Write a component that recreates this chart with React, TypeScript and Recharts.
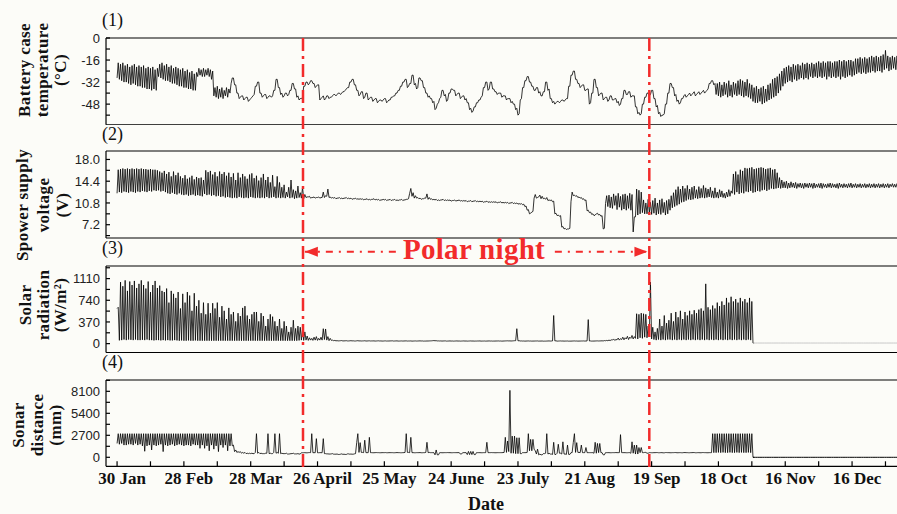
import React from 'react';
import { LineChart, Line, XAxis, YAxis, ReferenceLine } from 'recharts';

// x = day index, 0 = 30 Jan. Each day has a low reading (at d) and a high reading (at d + 0.5).
const DATE_TICKS = [0, 14.5, 29, 43.5, 58, 72.5, 87, 101.5, 116, 130.5, 145, 159.5, 174, 188.5, 203, 217.5, 232, 246.5, 261, 275.5, 290, 304.5, 319, 333.5];
const DATE_LABELS = ['30 Jan', '', '28 Feb', '', '28 Mar', '', '26 April', '', '25 May', '', '24 June', '', '23 July', '', '21 Aug', '', '19 Sep', '', '18 Oct', '', '16 Nov', '', '16 Dec', ''];
const X_DOMAIN = [-4.8, 339.8];

const POLAR_START = 80.7;
const POLAR_END = 231;

// (1) battery case temperature, °C
const TEMP_LO = [
  -29, -30, -31, -32, -32, -33, -34, -33, -34, -35,
  -35, -36, -36, -37, -37, -38, -37, -38, -28, -29,
  -30, -31, -31, -32, -33, -33, -34, -35, -35, -36,
  -36, -37, -37, -38, -38, -28, -27, -28, -28, -27,
  -28, -30, -42, -43, -44, -43, -44, -42, -43, -40,
  -29, -34, -40, -44, -42, -45, -43, -46, -44, -42,
  -35, -32, -40, -43, -41, -44, -42, -43, -38, -30,
  -36, -41, -43, -40, -42, -38, -33, -37, -43, -45,
  -44, -35, -32, -34, -31, -33, -36, -34, -45, -43,
  -45, -42, -44, -43, -41, -42, -40, -41, -39, -38,
  -36, -32, -30, -34, -38, -42, -39, -44, -40, -45,
  -43, -46, -44, -47, -45, -46, -44, -47, -45, -43,
  -42, -40, -38, -35, -32, -30, -36, -33, -27, -34,
  -37, -29, -31, -36, -40, -43, -44, -47, -52, -48,
  -44, -38, -42, -46, -40, -37, -38, -42, -40, -44,
  -42, -45, -47, -52, -54, -50, -47, -45, -43, -36,
  -32, -38, -32, -37, -39, -41, -40, -43, -42, -45,
  -44, -47, -48, -52, -56, -45, -36, -31, -28, -32,
  -35, -38, -36, -40, -42, -39, -32, -38, -44, -47,
  -48, -46, -47, -45, -46, -44, -35, -27, -24, -30,
  -33, -36, -34, -38, -37, -48, -40, -30, -36, -42,
  -40, -45, -43, -46, -42, -45, -44, -47, -49, -44,
  -38, -41, -39, -43, -42, -50, -55, -56, -48, -43,
  -40, -42, -38, -44, -50, -55, -57, -56, -48, -40,
  -33, -36, -42, -46, -48, -44, -42, -43, -41, -42,
  -40, -42, -40, -41, -39, -40, -38, -33, -31, -34,
  -41, -42, -43, -42, -41, -43, -42, -43, -41, -42,
  -41, -42, -43, -42, -43, -44, -46, -47, -47, -46,
  -48, -47, -46, -45, -44, -43, -42, -40, -38, -35,
  -33, -32, -31, -32, -30, -31, -30, -29, -30, -29,
  -30, -28, -29, -28, -29, -28, -29, -28, -30, -28,
  -29, -28, -29, -28, -30, -28, -29, -28, -27, -28,
  -27, -26, -25, -26, -25, -26, -25, -25, -24, -25,
  -24, -24, -25, -23, -22, -24, -23, -22, -23, -22,
];
const TEMP_HI = [
  -18, -19, -18, -20, -19, -21, -20, -19, -21, -20,
  -21, -20, -22, -21, -22, -21, -23, -22, -19, -18,
  -20, -19, -21, -20, -22, -21, -22, -23, -22, -24,
  -23, -25, -24, -26, -25, -22, -23, -22, -23, -22,
  -23, -24, -36, -35, -37, -36, -38, -36, -37, -33,
  -29, -34, -40, -43, -42, -44, -43, -45, -43, -41,
  -35, -32, -40, -42, -41, -43, -42, -42, -38, -30,
  -36, -40, -42, -40, -41, -38, -33, -37, -42, -44,
  -43, -35, -32, -33, -31, -33, -35, -34, -44, -42,
  -44, -42, -43, -42, -41, -41, -40, -40, -39, -37,
  -36, -32, -30, -34, -38, -41, -39, -43, -40, -44,
  -43, -45, -44, -46, -45, -45, -44, -46, -45, -43,
  -42, -40, -38, -35, -32, -30, -35, -33, -27, -33,
  -36, -29, -31, -36, -40, -42, -44, -46, -51, -47,
  -43, -38, -41, -45, -40, -37, -38, -41, -40, -43,
  -42, -44, -47, -51, -53, -50, -47, -45, -42, -36,
  -32, -37, -32, -37, -39, -40, -40, -42, -42, -44,
  -44, -46, -48, -51, -55, -44, -36, -31, -28, -32,
  -35, -38, -36, -39, -42, -39, -32, -37, -44, -46,
  -47, -46, -46, -45, -45, -44, -35, -27, -24, -30,
  -33, -35, -34, -38, -37, -47, -40, -30, -36, -41,
  -40, -44, -43, -45, -42, -45, -44, -46, -48, -44,
  -38, -41, -39, -42, -42, -50, -54, -55, -48, -43,
  -40, -41, -38, -44, -49, -54, -56, -55, -48, -40,
  -33, -36, -41, -45, -47, -44, -41, -42, -40, -41,
  -39, -41, -39, -40, -38, -39, -37, -33, -31, -33,
  -33, -32, -34, -32, -33, -31, -34, -32, -33, -31,
  -30, -31, -32, -30, -33, -34, -36, -35, -37, -36,
  -35, -37, -34, -33, -30, -29, -28, -26, -24, -22,
  -21, -20, -21, -19, -20, -19, -20, -18, -19, -18,
  -19, -18, -19, -18, -17, -18, -17, -18, -17, -17,
  -18, -17, -17, -16, -17, -16, -17, -16, -16, -17,
  -15, -15, -14, -15, -14, -15, -14, -13, -14, -13,
  -14, -13, -12, -9, -13, -14, -13, -14, -13, -14,
];

// (2) power supply voltage, V
const VOLT_LO = [
  12.4, 12.6, 12.5, 12.7, 12.6, 12.5, 12.7, 12.6, 12.5, 12.7,
  12.6, 12.8, 12.7, 12.6, 12.8, 12.7, 12.9, 12.8, 12.9, 12.7,
  12.8, 12.6, 12.4, 12.3, 12.5, 12.3, 12.2, 12.4, 12.2, 12.1,
  12.2, 12.0, 12.1, 12.2, 12.0, 12.1, 12.0, 11.9, 12.3, 12.1,
  12.2, 12.0, 12.1, 11.9, 12.0, 11.8, 11.9, 11.7, 11.8, 11.7,
  11.6, 11.7, 11.6, 11.8, 11.7, 11.6, 11.7, 11.6, 11.8, 11.7,
  11.6, 11.7, 11.6, 11.7, 11.6, 11.8, 11.6, 11.7, 11.8, 11.6,
  11.7, 11.6, 11.7, 11.6, 11.8, 11.6, 11.7, 11.5, 11.6, 11.7,
  11.6, 11.5, 11.7, 11.8, 11.6, 11.7, 11.6, 11.7, 11.6, 11.7,
  11.7, 11.9, 11.7, 11.6, 11.6, 11.5, 11.6, 11.5, 11.5, 11.6,
  11.5, 11.5, 11.4, 11.5, 11.4, 11.4, 11.4, 11.3, 11.4, 11.3,
  11.3, 11.4, 11.3, 11.3, 11.2, 11.3, 11.3, 11.2, 11.3, 11.2,
  11.3, 11.2, 11.2, 11.3, 11.2, 11.3, 11.4, 12.4, 11.9, 11.6,
  11.6, 11.5, 11.4, 11.5, 11.6, 11.4, 11.4, 11.3, 11.3, 11.2,
  11.2, 11.3, 11.2, 11.2, 11.2, 11.1, 11.2, 11.1, 11.2, 11.1,
  11.1, 11.1, 11.0, 11.1, 11.0, 11.1, 11.0, 11.0, 11.0, 10.9,
  11.0, 10.9, 10.9, 10.9, 10.9, 10.8, 10.9, 10.8, 10.8, 10.8,
  10.7, 10.8, 10.7, 10.7, 10.6, 10.6, 10.5, 10.2, 9.6, 9.0,
  9.3, 11.6, 11.6, 11.8, 11.5, 11.5, 11.4, 11.2, 11.2, 11.0,
  9.0, 8.7, 8.6, 6.8, 6.5, 6.4, 6.5, 11.0, 12.0, 11.9,
  11.7, 11.6, 11.4, 11.2, 9.5, 9.2, 8.9, 8.7, 9.0, 8.8,
  8.6, 6.5, 10.7, 10.2, 10.0, 9.9, 10.4, 9.7, 10.1, 9.6,
  9.8, 9.6, 9.9, 9.6, 6.0, 8.5, 8.8, 9.0, 9.2, 9.0,
  9.0, 9.2, 8.9, 9.1, 8.8, 9.0, 8.9, 9.2, 8.8, 9.0,
  9.6, 10.0, 10.2, 10.4, 10.6, 10.9, 11.0, 11.2, 11.4, 11.3,
  11.4, 11.6, 11.5, 11.6, 11.7, 11.6, 11.7, 11.8, 11.7, 11.6,
  11.7, 11.6, 11.8, 11.7, 11.6, 11.8, 11.9, 12.4, 12.2, 12.6,
  12.3, 12.5, 12.4, 12.7, 12.6, 12.8, 12.5, 12.6, 12.8, 12.7,
  12.9, 13.0, 12.8, 13.0, 13.2, 13.1, 13.2, 13.3, 13.2, 13.3,
  13.3, 13.2, 13.3, 13.4, 13.3, 13.2, 13.4, 13.3, 13.2, 13.4,
  13.3, 13.4, 13.2, 13.3, 13.4, 13.3, 13.2, 13.4, 13.3, 13.4,
  13.3, 13.4, 13.3, 13.2, 13.4, 13.3, 13.4, 13.3, 13.4, 13.3,
  13.4, 13.3, 13.4, 13.3, 13.4, 13.3, 13.4, 13.3, 13.4, 13.3,
  13.4, 13.3, 13.4, 13.3, 13.4, 13.3, 13.5, 13.4, 13.4, 13.3,
];
const VOLT_HI = [
  16.3, 16.4, 16.5, 16.4, 16.5, 16.4, 16.5, 16.4, 16.5, 16.4,
  16.5, 16.4, 16.4, 16.3, 16.4, 16.3, 16.3, 16.2, 16.0, 15.8,
  16.1, 15.6, 15.9, 15.2, 16.0, 15.4, 15.8, 15.2, 14.9, 15.4,
  14.8, 15.0, 15.3, 14.7, 15.1, 14.9, 15.0, 14.6, 16.2, 15.9,
  16.1, 15.5, 15.9, 15.2, 16.0, 15.6, 15.9, 15.3, 15.8, 15.1,
  15.7, 14.6, 15.8, 15.0, 15.6, 15.2, 14.8, 15.5, 15.7, 14.9,
  15.3, 14.5, 15.0, 15.6, 14.6, 15.1, 14.2, 15.4, 13.5, 15.2,
  14.2, 13.4, 13.8, 12.6, 13.4, 14.6, 13.0, 12.8, 13.6, 12.5,
  13.4, 12.2, 11.8, 11.9, 11.7, 11.8, 11.7, 11.8, 11.7, 12.6,
  12.0, 13.1, 11.8, 11.7, 11.7, 11.6, 11.7, 11.6, 11.6, 11.7,
  11.6, 11.6, 11.5, 11.6, 11.5, 11.5, 11.5, 11.4, 11.5, 11.4,
  11.4, 11.5, 11.4, 11.4, 11.3, 11.4, 11.4, 11.3, 11.4, 11.3,
  11.4, 11.3, 11.3, 11.4, 11.3, 11.4, 11.5, 13.2, 12.5, 12.0,
  11.7, 11.6, 11.5, 11.6, 12.3, 11.7, 11.5, 11.4, 11.4, 11.3,
  11.3, 11.4, 11.3, 11.3, 11.3, 11.2, 11.3, 11.2, 11.3, 11.2,
  11.2, 11.2, 11.1, 11.2, 11.1, 11.2, 11.1, 11.1, 11.1, 11.0,
  11.1, 11.0, 11.0, 11.0, 11.0, 10.9, 11.0, 10.9, 10.9, 10.9,
  10.8, 10.9, 10.8, 10.8, 10.7, 10.7, 10.6, 10.3, 9.7, 9.1,
  9.4, 12.2, 11.7, 12.1, 11.9, 11.6, 11.7, 11.3, 11.3, 11.1,
  9.1, 8.8, 8.7, 6.9, 6.6, 6.5, 6.6, 12.6, 12.1, 12.0,
  11.8, 11.7, 11.5, 11.3, 9.6, 9.3, 9.0, 8.8, 9.1, 8.9,
  8.7, 6.6, 12.0, 12.1, 11.8, 12.3, 12.0, 12.4, 11.9, 12.2,
  12.3, 12.0, 12.4, 12.2, 8.5, 13.1, 12.9, 12.6, 11.3, 10.8,
  11.4, 10.9, 11.2, 11.6, 10.8, 11.3, 11.5, 10.9, 11.2, 11.4,
  12.0, 12.5, 13.0, 13.5, 13.1, 13.6, 13.2, 13.7, 13.1, 13.4,
  13.6, 13.0, 13.5, 13.2, 13.7, 13.3, 13.1, 13.4, 12.8, 13.3,
  12.6, 13.0, 12.8, 12.4, 12.6, 13.0, 12.8, 15.6, 16.0, 15.5,
  16.3, 16.1, 16.6, 16.5, 16.6, 16.7, 16.4, 16.5, 16.6, 16.7,
  16.6, 16.4, 16.5, 16.6, 16.3, 16.4, 15.8, 15.0, 14.6, 14.3,
  14.4, 14.1, 14.3, 14.1, 14.2, 14.0, 14.1, 14.0, 14.1, 14.0,
  14.1, 14.0, 14.1, 13.9, 14.0, 14.1, 14.0, 13.9, 14.0, 14.1,
  14.0, 13.9, 14.0, 14.1, 13.9, 14.0, 13.9, 14.0, 14.1, 13.9,
  14.0, 13.9, 14.0, 13.9, 14.0, 13.9, 14.0, 13.9, 14.0, 13.9,
  14.0, 13.9, 14.0, 13.9, 14.0, 13.9, 14.0, 13.9, 14.0, 13.9,
];

// (3) solar radiation, W/m2, days 0-276 (daily base and daily peak)
const SOLAR_LO = [
  600, 56, 60, 70, 60, 70, 65, 60, 70, 60,
  60, 65, 60, 70, 60, 60, 55, 60, 60, 55,
  60, 55, 60, 55, 55, 60, 55, 50, 55, 50,
  50, 55, 50, 50, 55, 50, 50, 50, 50, 50,
  50, 50, 50, 50, 50, 50, 50, 50, 50, 50,
  50, 50, 50, 50, 50, 50, 50, 50, 50, 50,
  50, 50, 50, 50, 50, 50, 50, 50, 50, 50,
  50, 50, 50, 50, 50, 50, 50, 50, 50, 55,
  60, 55, 60, 55, 60, 55, 60, 55, 60, 60,
  70, 60, 50, 55, 50, 48, 47, 50, 46, 48,
  46, 48, 47, 45, 48, 46, 45, 47, 45, 47,
  45, 46, 44, 47, 45, 44, 46, 44, 45, 47,
  44, 46, 44, 45, 44, 46, 44, 45, 43, 45,
  44, 46, 45, 43, 44, 45, 47, 50, 49, 46,
  45, 44, 46, 43, 45, 44, 43, 45, 44, 43,
  45, 44, 43, 45, 44, 43, 44, 45, 43, 44,
  43, 45, 44, 43, 44, 45, 44, 43, 45, 47,
  46, 45, 48, 50, 48, 45, 44, 43, 45, 44,
  43, 44, 45, 43, 44, 42, 43, 45, 44, 46,
  47, 43, 45, 44, 43, 44, 42, 43, 45, 44,
  43, 44, 45, 44, 46, 45, 43, 44, 46, 45,
  47, 46, 49, 50, 52, 60, 55, 65, 60, 70,
  65, 80, 70, 90, 80, 90, 80, 100, 90, 110,
  100, 120, 80, 70, 60, 70, 60, 70, 60, 70,
  70, 60, 70, 60, 70, 60, 70, 60, 70, 60,
  70, 60, 70, 60, 70, 60, 70, 60, 70, 60,
  70, 60, 70, 60, 70, 60, 70, 60, 70, 60,
  70, 60, 70, 60, 70, 60, 10,
];
const SOLAR_HI = [
  620, 1050, 980, 1080, 900, 1060, 1000, 1070, 950, 1020,
  1080, 1000, 940, 1060, 880, 1000, 1070, 950, 990, 900,
  880, 940, 700, 900, 850, 780, 880, 600, 850, 700,
  880, 820, 560, 860, 640, 740, 520, 700, 500, 690,
  520, 690, 600, 700, 450, 640, 560, 420, 610, 500,
  540, 380, 520, 470, 610, 640, 480, 420, 500, 540,
  540, 380, 520, 470, 300, 420, 500, 460, 380, 300,
  420, 260, 380, 300, 200, 280, 400, 260, 300, 280,
  250, 200, 130, 100, 90, 110, 120, 90, 110, 255,
  250, 120, 90, 60, 55, 50, 48, 52, 47, 50,
  46, 50, 48, 45, 50, 47, 46, 49, 45, 48,
  46, 47, 45, 48, 46, 44, 47, 45, 46, 48,
  45, 47, 44, 46, 45, 47, 45, 46, 44, 46,
  45, 47, 46, 44, 45, 46, 48, 52, 50, 47,
  46, 45, 47, 44, 46, 45, 44, 46, 45, 44,
  46, 45, 44, 46, 45, 44, 45, 46, 44, 45,
  44, 46, 45, 44, 45, 46, 45, 44, 46, 48,
  47, 46, 50, 255, 50, 46, 45, 44, 46, 45,
  44, 45, 46, 44, 45, 43, 44, 46, 45, 480,
  48, 44, 46, 45, 44, 45, 43, 44, 46, 45,
  44, 45, 46, 45, 410, 46, 44, 45, 47, 46,
  48, 52, 55, 60, 65, 80, 70, 95, 85, 110,
  100, 125, 110, 140, 120, 510, 500, 520, 510, 500,
  300, 1050, 280, 200, 260, 420, 300, 480, 350, 400,
  520, 380, 540, 450, 560, 420, 540, 480, 560, 500,
  570, 520, 580, 600, 560, 1020, 620, 580, 650, 600,
  700, 640, 720, 660, 780, 700, 800, 720, 760, 700,
  780, 720, 760, 700, 780, 720, 10,
];
// sensor idle, days 276-339
const SOLAR_IDLE = [
  10, 10, 10, 10, 10, 10, 10, 10, 10, 10,
  10, 10, 10, 10, 10, 10, 10, 10, 10, 10,
  10, 10, 10, 10, 10, 10, 10, 10, 10, 10,
  10, 10, 10, 10, 10, 10, 10, 10, 10, 10,
  10, 10, 10, 10, 10, 10, 10, 10, 10, 10,
  10, 10, 10, 10, 10, 10, 10, 10, 10, 10,
  10, 10, 10, 10,
];

// (4) sonar distance, mm, days 0-276
const SONAR_LO = [
  1700, 1600, 1700, 1500, 1500, 1600, 1600, 1500, 1700, 1500,
  1600, 1400, 740, 1400, 1500, 900, 1500, 1400, 1500, 1600,
  700, 1500, 1400, 1500, 1600, 1400, 1500, 1600, 1500, 1400,
  1500, 1500, 1400, 1600, 1500, 1500, 1100, 1500, 1100, 1400,
  800, 1500, 1000, 1400, 700, 1500, 1200, 1500, 800, 1400,
  1400, 700, 600, 600, 500, 500, 450, 450, 450, 450,
  600, 500, 450, 450, 450, 500, 450, 450, 600, 500,
  500, 450, 450, 450, 400, 420, 450, 420, 420, 400,
  560, 560, 550, 570, 570, 560, 560, 560, 570, 560,
  450, 420, 400, 420, 380, 380, 350, 380, 360, 350,
  420, 380, 380, 420, 1800, 600, 600, 570, 570, 570,
  570, 560, 570, 570, 560, 570, 570, 560, 570, 570,
  560, 570, 570, 560, 570, 600, 600, 570, 570, 560,
  570, 570, 560, 570, 600, 570, 570, 570, 300, 300,
  570, 560, 570, 570, 570, 560, 570, 570, 570, 400,
  570, 570, 330, 330, 330, 330, 570, 570, 560, 570,
  570, 570, 570, 570, 560, 570, 570, 570, 600, 600,
  700, 500, 500, 450, 450, 450, 570, 570, 600, 800,
  800, 1000, 400, 300, 300, 450, 500, 400, 400, 350,
  350, 500, 500, 400, 400, 350, 350, 570, 1800, 600,
  600, 570, 570, 570, 570, 570, 570, 500, 500, 570,
  570, 300, 570, 570, 560, 570, 570, 570, 570, 570,
  570, 560, 570, 500, 500, 400, 400, 570, 570, 600,
  500, 570, 560, 570, 580, 560, 570, 550, 580, 570,
  560, 570, 580, 560, 570, 560, 580, 570, 560, 570,
  580, 560, 570, 560, 580, 570, 560, 570, 570, 570,
  570, 600, 570, 600, 570, 570, 600, 570, 570, 600,
  570, 600, 570, 570, 600, 570, 0,
];
const SONAR_HI = [
  2900, 2900, 2900, 2900, 2900, 2900, 2900, 2900, 2900, 2900,
  2900, 2900, 2900, 2900, 2900, 2900, 2900, 2900, 2900, 2900,
  2900, 2900, 2900, 2900, 2900, 2900, 2900, 2900, 2900, 2900,
  2900, 2900, 2900, 2900, 2900, 2900, 2900, 2900, 2900, 2900,
  2900, 2900, 2900, 2900, 2900, 2900, 2900, 2900, 2900, 2900,
  1500, 900, 700, 700, 600, 600, 500, 500, 500, 450,
  2900, 600, 500, 450, 500, 2900, 500, 450, 2900, 600,
  2900, 500, 450, 500, 400, 450, 500, 420, 450, 400,
  560, 570, 550, 580, 2900, 570, 2290, 560, 570, 2290,
  450, 420, 400, 450, 380, 400, 350, 420, 380, 350,
  420, 400, 380, 450, 2900, 1800, 600, 2100, 570, 2450,
  570, 560, 580, 570, 560, 570, 580, 560, 570, 570,
  560, 580, 570, 560, 570, 2900, 600, 2450, 570, 560,
  570, 580, 560, 570, 1840, 600, 570, 570, 900, 300,
  570, 560, 570, 580, 570, 560, 570, 570, 580, 400,
  570, 570, 720, 720, 720, 330, 570, 570, 560, 570,
  1840, 570, 580, 570, 560, 570, 570, 580, 2450, 2000,
  8220, 2600, 2600, 2400, 2400, 450, 570, 570, 2900, 2200,
  2200, 800, 1000, 400, 300, 450, 2900, 500, 400, 1840,
  350, 1600, 500, 1900, 400, 1500, 350, 570, 2900, 1800,
  600, 1500, 570, 1200, 570, 570, 570, 1840, 1700, 1700,
  570, 300, 570, 570, 560, 570, 580, 570, 2780, 570,
  570, 560, 570, 1900, 1500, 1500, 1200, 1200, 570, 600,
  500, 570, 560, 570, 580, 560, 570, 550, 580, 570,
  560, 570, 580, 560, 570, 560, 580, 570, 560, 570,
  580, 560, 570, 560, 580, 570, 560, 570, 2900, 2900,
  2900, 2900, 2900, 2900, 2900, 2900, 2900, 2900, 2900, 2900,
  2900, 2900, 2900, 2900, 2900, 2900, 0,
];
// sensor idle, days 276-339
const SONAR_IDLE = [
  0, 0, 0, 0, 0, 0, 0, 0, 0, 0,
  0, 0, 0, 0, 0, 0, 0, 0, 0, 0,
  0, 0, 0, 0, 0, 0, 0, 0, 0, 0,
  0, 0, 0, 0, 0, 0, 0, 0, 0, 0,
  0, 0, 0, 0, 0, 0, 0, 0, 0, 0,
  0, 0, 0, 0, 0, 0, 0, 0, 0, 0,
  0, 0, 0, 0,
];

const TEMP_TICKS = [-56, -48, -40, -32, -24, -16, -8, 0];
const TEMP_LABELS = [-48, -32, -16, 0];
const VOLT_TICKS = [5.4, 7.2, 9, 10.8, 12.6, 14.4, 16.2, 18];
const VOLT_LABELS = [7.2, 10.8, 14.4, 18];
const SOLAR_TICKS = [0, 185, 370, 555, 740, 925, 1110, 1295];
const SOLAR_LABELS = [0, 370, 740, 1110];
const SONAR_TICKS = [0, 1350, 2700, 4050, 5400, 6750, 8100, 9450];
const SONAR_LABELS = [0, 2700, 5400, 8100];

const RED = '#f22b2b';
const SERIF = '"Liberation Serif", "Times New Roman", serif';
const SANS = '"Liberation Sans", Arial, sans-serif';

// one low point at d and one high point at d + 0.5 for each day
const dayRows = (lo: number[], hi: number[], start = 0) =>
  lo.flatMap((v, i) => [{ d: start + i, v }, { d: start + i + 0.5, v: hi[i] }]);
const rows = (vals: number[], start = 0) => vals.map((v, i) => ({ d: start + i, v }));

function Panel({ top, plotH, domain, data, yTicks, yLabels, digits = 0, showDates = false, extra = null }: any) {
  const bottomH = showDates ? 40 : 1;
  return (
    <div style={{ position: 'absolute', left: 0, top: top - 9 }}>
      <LineChart width={900} height={9 + plotH + bottomH} data={data} margin={{ top: 8, right: 0, bottom: 0, left: 46 }}>
        <XAxis xAxisId="top" orientation="top" type="number" dataKey="d" domain={X_DOMAIN} ticks={DATE_TICKS} interval={0}
          height={1} tickSize={-5} tick={false} stroke="#000" strokeWidth={1.2} allowDataOverflow />
        <XAxis type="number" dataKey="d" domain={X_DOMAIN} ticks={DATE_TICKS} interval={0} height={bottomH}
          tickSize={-5} tickMargin={11} stroke="#000" strokeWidth={1.2} allowDataOverflow
          tick={showDates ? { fontSize: 17, fontWeight: 'bold', fontFamily: SERIF, fill: '#111', dx: 5 } : false}
          tickFormatter={(v: number) => DATE_LABELS[DATE_TICKS.indexOf(v)] ?? ''} />
        <YAxis type="number" domain={domain} ticks={yTicks} interval={0} width={60} tickSize={-4} tickMargin={10}
          stroke="#000" strokeWidth={1.2} allowDataOverflow
          tick={{ fontSize: 13, fill: '#222', fontFamily: SANS }}
          tickFormatter={(v: number) => (yLabels.includes(v) ? v.toFixed(digits) : '')} />
        <Line type="linear" dataKey="v" stroke="#000" strokeWidth={0.8} dot={false} isAnimationActive={false} />
        {extra}
      </LineChart>
    </div>
  );
}

const arrowSeg = (dir: 'left' | 'right') => (p: any) => {
  const { x1, y1, x2, y2 } = p;
  const tip = dir === 'left' ? Math.min(x1, x2) : Math.max(x1, x2);
  const back = dir === 'left' ? tip + 13 : tip - 13;
  return (
    <g>
      <line x1={x1} y1={y1} x2={x2} y2={y2} stroke={RED} strokeWidth={2} strokeDasharray="7 6 2 6" />
      <polygon points={`${tip},${y1} ${back},${y1 - 5} ${back},${y1 + 5}`} fill={RED} />
    </g>
  );
};

function YTitle({ cy, lines }: { cy: number; lines: [number, string][] }) {
  return (
    <>
      {lines.map(([cx, t]) => (
        <text key={t} transform={`translate(${cx},${cy}) rotate(-90)`} textAnchor="middle" dominantBaseline="central"
          fontFamily={SERIF} fontWeight="bold" fontSize={17} letterSpacing={0.4} fill="#111">{t}</text>
      ))}
    </>
  );
}

export default function App() {
  const tempRows = dayRows(TEMP_LO, TEMP_HI);
  return (
    <div style={{ position: 'absolute', left: 0, top: 0, width: 897, height: 514, overflow: 'hidden', background: '#fcfcf8' }}>
      <Panel top={37.5} plotH={86.8} domain={[-63, 0]} data={tempRows} yTicks={TEMP_TICKS} yLabels={TEMP_LABELS} />
      <Panel top={150.7} plotH={87} domain={[5, 19.4]} data={dayRows(VOLT_LO, VOLT_HI)} yTicks={VOLT_TICKS} yLabels={VOLT_LABELS} digits={1} />
      <Panel top={265.7} plotH={86.6} domain={[-153, 1325]} data={dayRows(SOLAR_LO, SOLAR_HI)} yTicks={SOLAR_TICKS} yLabels={SOLAR_LABELS}
        extra={<Line data={rows(SOLAR_IDLE, 276)} type="linear" dataKey="v" stroke="#c8c8c8" strokeWidth={1} dot={false} isAnimationActive={false} />} />
      <Panel top={379.7} plotH={86.3} domain={[-1105, 9490]} data={dayRows(SONAR_LO, SONAR_HI)} yTicks={SONAR_TICKS} yLabels={SONAR_LABELS} showDates
        extra={<Line data={rows(SONAR_IDLE, 276)} type="linear" dataKey="v" stroke="#000" strokeWidth={1} dot={false} isAnimationActive={false} />} />

      {/* polar night markers */}
      <div style={{ position: 'absolute', left: 0, top: 0, pointerEvents: 'none' }}>
        <LineChart width={900} height={514} data={tempRows} margin={{ top: 37, right: 0, bottom: 47, left: 106 }}>
          <XAxis type="number" dataKey="d" domain={X_DOMAIN} hide allowDataOverflow />
          <YAxis type="number" domain={[37, 467]} reversed hide allowDataOverflow />
          <ReferenceLine ifOverflow="visible" segment={[{ x: POLAR_START + 0.8, y: 251.7 }, { x: 121, y: 251.7 }]} shape={arrowSeg('left')} />
          <ReferenceLine ifOverflow="visible" segment={[{ x: 190, y: 251.7 }, { x: POLAR_END - 0.8, y: 251.7 }]} shape={arrowSeg('right')} />
          <ReferenceLine x={POLAR_START} stroke={RED} strokeWidth={2.5} strokeDasharray="13 5 3 5" ifOverflow="visible" />
          <ReferenceLine x={POLAR_END} stroke={RED} strokeWidth={2.5} strokeDasharray="13 5 3 5" ifOverflow="visible" />
        </LineChart>
      </div>

      <svg width={897} height={514} style={{ position: 'absolute', left: 0, top: 0, pointerEvents: 'none' }}>
        <g fontFamily={SERIF} fontSize={18} fill="#111">
          <text x={102} y={26}>(1)</text>
          <text x={102} y={139.5}>(2)</text>
          <text x={102} y={254}>(3)</text>
          <text x={102} y={368}>(4)</text>
        </g>
        <YTitle cy={70} lines={[[24, 'Battery case'], [42, 'temperature'], [60, '(°C)']]} />
        <YTitle cy={205} lines={[[22, 'Spower supply'], [43, 'voltage'], [62, '(V)']]} />
        <YTitle cy={305} lines={[[25, 'Solar'], [43, 'radiation'], [60, '(W/m²)']]} />
        <YTitle cy={425} lines={[[18.5, 'Sonar'], [37, 'distance'], [55, '(mm)']]} />
        <text x={474} y={259} textAnchor="middle" fontFamily={SERIF} fontWeight="bold" fontSize={29} letterSpacing={0.3} fill={RED}>Polar night</text>
        <text x={486} y={510} textAnchor="middle" fontFamily={SERIF} fontWeight="bold" fontSize={18} fill="#111">Date</text>
      </svg>
    </div>
  );
}
